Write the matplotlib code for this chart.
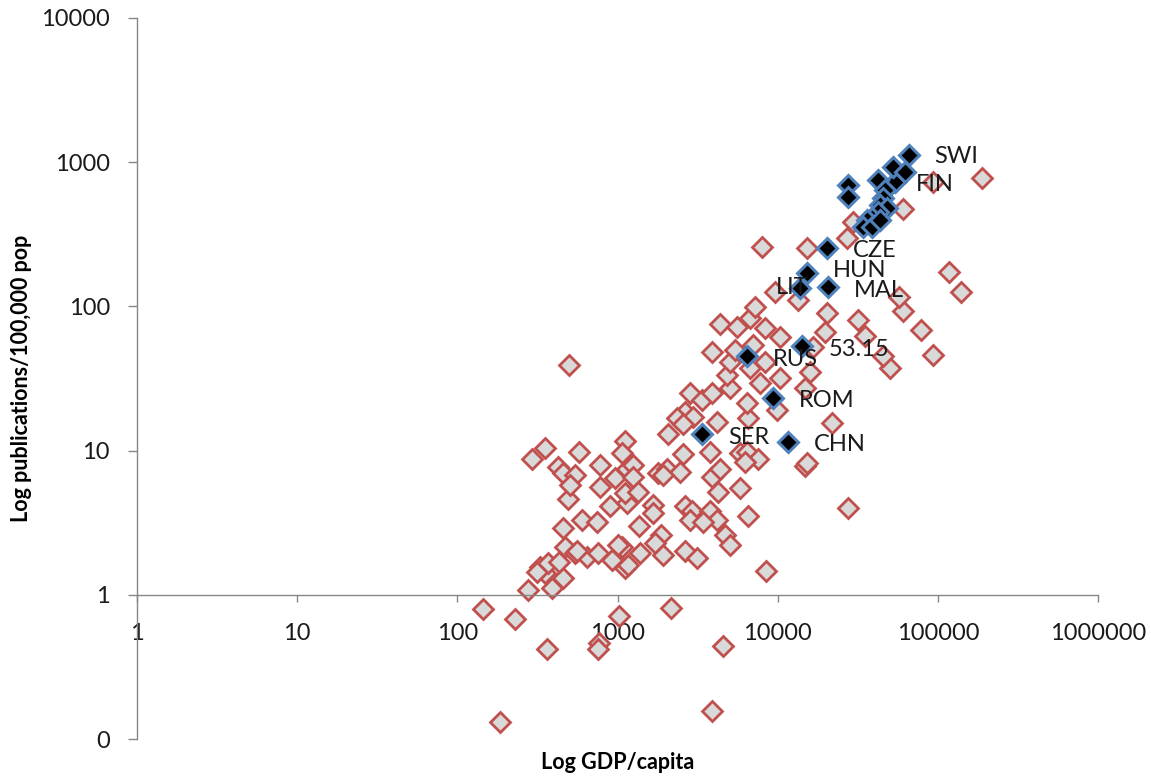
import matplotlib
matplotlib.use("Agg")
import matplotlib.pyplot as plt
from matplotlib.ticker import FixedLocator, FixedFormatter, NullLocator

plt.rcParams['font.family'] = ['Lato', 'DejaVu Sans']

# all countries (GDP per capita, publications per 100,000 population)
red_gdp = [144, 229, 362, 766, 755, 1020, 2155, 4549, 3885, 184,
           276, 389, 456, 328, 352, 314, 368, 431, 470, 456,
           542, 600, 743, 644, 755, 936, 1065, 1112, 1161, 1380,
           1360, 1664, 1866, 1712, 1920, 2635, 3130, 2635, 2912, 2831,
           897, 1145, 490, 1005, 923, 558, 292, 352, 574, 1112,
           1065, 424, 456, 542, 505, 777, 777, 963, 1145, 1248,
           1248, 1112, 1340, 1786, 1664, 2065, 2033, 2561, 2453, 1920,
           3776, 3885, 4355, 5808, 6427, 7520, 6240, 14790, 5808, 4233,
           3776, 4172, 3414, 6516, 4679, 5030, 8440, 2831, 2635, 2348,
           2956, 2561, 4172, 6516, 3367, 3885, 6427, 9890, 21790, 15210,
           27420, 5030, 4815, 7744, 10330, 14790, 15880, 8318, 5030, 6700,
           3885, 5409, 7000, 16590, 10330, 19710, 20290, 4355, 5565, 6700,
           8318, 7206, 9610, 13370, 7967, 15210, 31700, 35010, 50150, 45380,
           93100, 78300, 60500, 57130, 117200, 139300, 60500, 93100, 188200, 29450,
           27030, 497]
red_pub = [0.80, 0.68, 0.42, 0.46, 0.42, 0.71, 0.81, 0.44, 0.157, 0.132,
           1.08, 1.12, 1.31, 1.56, 1.42, 1.44, 1.67, 1.69, 2.15, 2.9,
           1.95, 3.3, 3.2, 1.84, 1.95, 1.78, 2.15, 1.54, 1.61, 1.95,
           3.0, 4.2, 2.6, 2.3, 1.9, 2.0, 1.81, 4.1, 3.8, 3.3,
           4.1, 4.3, 4.6, 2.2, 1.75, 2.0, 8.8, 10.5, 9.8, 11.7,
           9.7, 7.7, 7.0, 6.8, 5.8, 8.0, 5.6, 6.5, 7.4, 8.0,
           6.6, 5.1, 5.2, 7.0, 3.7, 13.1, 7.4, 9.4, 7.1, 6.8,
           9.8, 6.6, 7.4, 9.7, 9.8, 8.8, 8.4, 7.8, 5.5, 5.2,
           3.8, 3.3, 3.2, 3.5, 2.6, 2.2, 1.47, 25.2, 18.6, 16.9,
           17.1, 15.2, 15.8, 16.8, 22.5, 25.2, 21.4, 19.2, 15.6, 8.2,
           4.0, 27.3, 33.6, 29.5, 32, 27.3, 35, 41, 41, 37.5,
           48, 50, 54, 52, 61, 66, 90, 75, 72, 83,
           71, 99, 126, 111, 259, 255, 81, 62, 37.5, 45,
           46, 69, 93, 117, 174, 126, 475, 731, 780, 386,
           299, 39]

# highlighted group
blk_gdp = [65900, 53910, 20290, 15210, 13770, 20570, 14160, 6427, 9330, 3367,
           11590, 52360, 62230, 42190, 27420, 27420, 46710, 45380, 43430, 48080,
           42190, 38720, 36040, 34050, 38720, 43430]
blk_pub = [1125, 731, 255, 171, 135, 136, 53.15, 45, 23.2, 13.0,
           11.5, 929, 858, 755, 697, 575, 644, 566, 507, 483,
           453, 412, 399, 357, 357, 399]
blk_names = ['SWI', 'FIN', 'CZE', 'HUN', 'LIT', 'MAL', '53.15', 'RUS', 'ROM', 'SER', 'CHN']

x_ticks = [1, 10, 100, 1000, 10000, 100000, 1000000]
y_ticks = [0.1, 1, 10, 100, 1000, 10000]
y_tick_labels = ['0', '1', '10', '100', '1000', '10000']

fig = plt.figure(figsize=(11.51, 7.79), dpi=100)
ax = fig.add_axes([137 / 1151, 1 - 739 / 779, 961 / 1151, 721 / 779])

ax.plot(red_gdp, red_pub, 'D', ms=10, mfc='#D9D9D9', mec='#C0504D', mew=2.0, clip_on=False)
ax.plot(blk_gdp, blk_pub, 'D', ms=10, mfc='black', mec='#4F81BD', mew=2.2, clip_on=False)

offsets = {'SWI': (18, -1.5), 'FIN': (15, -2), 'HUN': (19, 2), 'LIT': (-17, 0)}
for name, gx, gy in zip(blk_names, blk_gdp, blk_pub):
    ax.annotate(name, (gx, gy), xytext=offsets.get(name, (19, -2.2)),
                textcoords='offset points', ha='left', va='center',
                fontsize=17, color='#1a1a1a')

ax.set_xscale('log')
ax.set_yscale('log')
ax.set_xlim(1, 1000000)
ax.set_ylim(0.1, 10000)

ax.xaxis.set_major_locator(FixedLocator(x_ticks))
ax.xaxis.set_major_formatter(FixedFormatter([str(v) for v in x_ticks]))
ax.xaxis.set_minor_locator(NullLocator())
ax.yaxis.set_major_locator(FixedLocator(y_ticks))
ax.yaxis.set_major_formatter(FixedFormatter(y_tick_labels))
ax.yaxis.set_minor_locator(NullLocator())

for s in ['top', 'right']:
    ax.spines[s].set_visible(False)
ax.spines['bottom'].set_position(('data', 1))
for s in ['left', 'bottom']:
    ax.spines[s].set_color('#868686')
    ax.spines[s].set_linewidth(1.0)

ax.tick_params(axis='y', direction='out', length=6.5, width=1, color='#868686',
               pad=13, labelsize=17, labelcolor='#1a1a1a')
ax.tick_params(axis='x', direction='out', length=5, width=1, color='#868686',
               pad=15, labelsize=17, labelcolor='#1a1a1a')

ax.set_xlabel('Log GDP/capita', fontsize=15.5, fontweight='bold', va='center')
ax.xaxis.set_label_coords(0.5, -0.032)
ax.set_ylabel('Log publications/100,000 pop', fontsize=15.5, fontweight='bold', va='center')
ax.yaxis.set_label_coords(-0.12, 0.5)

fig.savefig('out.png', dpi=100)
